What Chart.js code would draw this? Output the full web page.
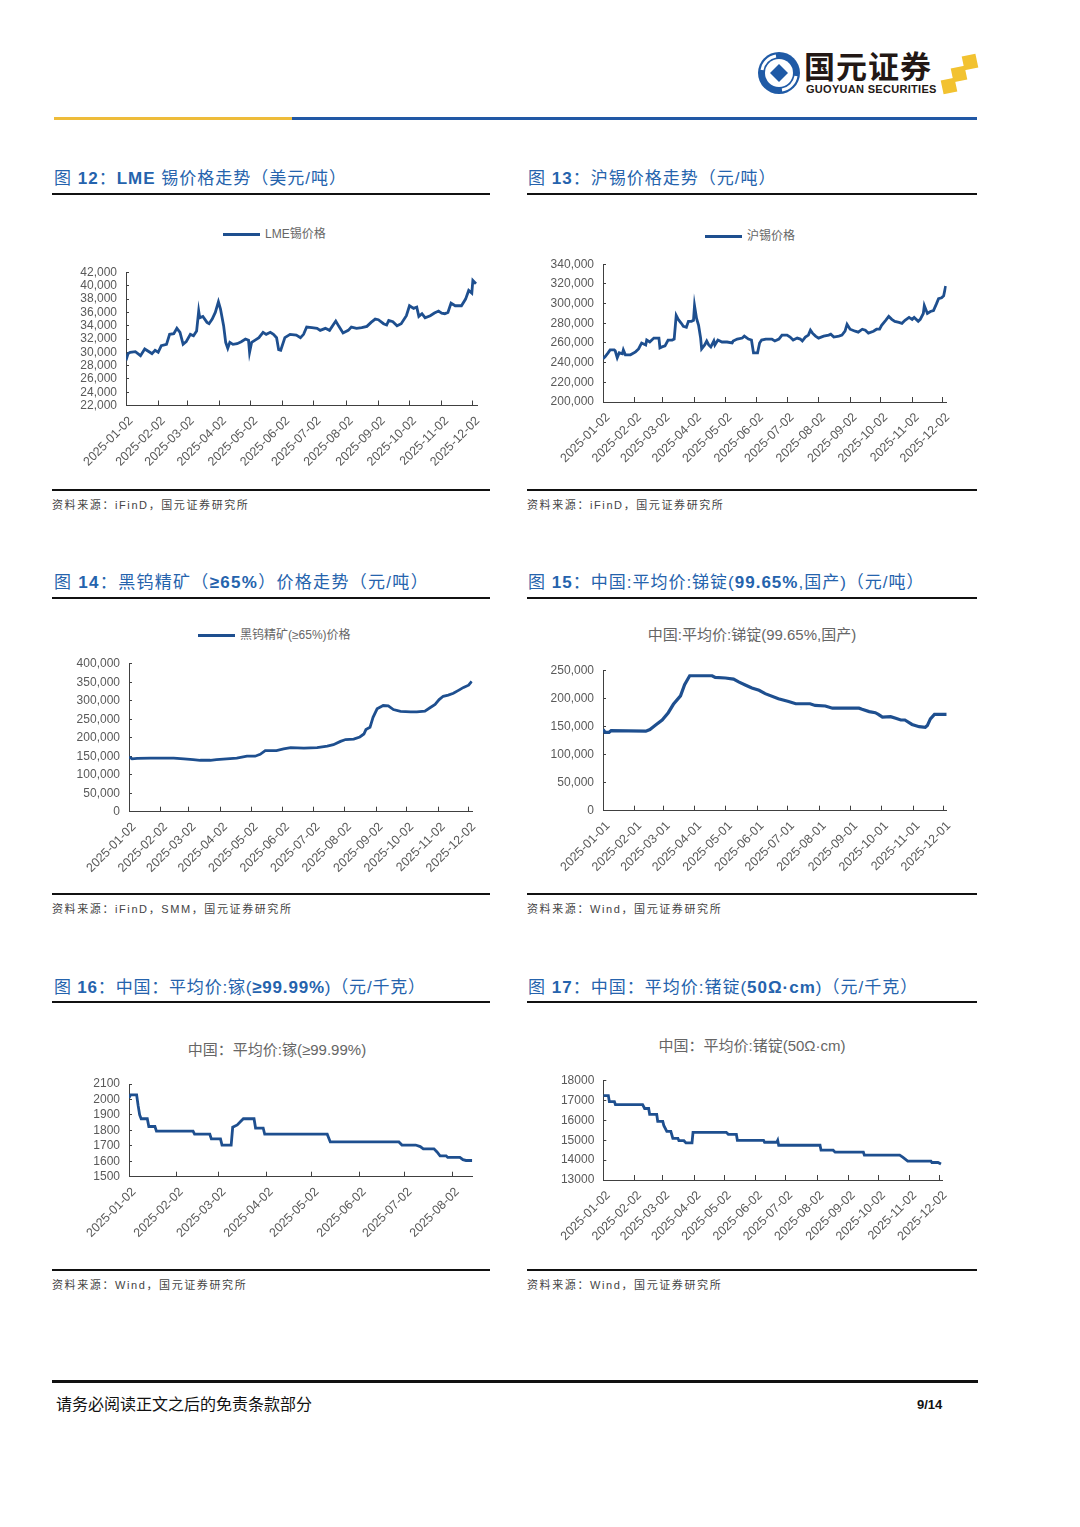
<!DOCTYPE html>
<html lang="zh-CN">
<head>
<meta charset="utf-8">
<title>国元证券 9/14</title>
<script src="https://cdn.jsdelivr.net/npm/chart.js@4.4.1/dist/chart.umd.min.js"></script>
<style>
  body { margin:0; width:1080px; height:1527px; background:#fff; position:relative; overflow:hidden;
         font-family:"Liberation Sans","Noto Sans CJK SC",sans-serif; }
  .rule { position:absolute; background:#111; }
  .title { position:absolute; font-size:17px; line-height:20px; color:#2563ad; white-space:nowrap; letter-spacing:1px; }
  .src { position:absolute; font-size:11px; line-height:14px; color:#444; white-space:nowrap; letter-spacing:1.6px; }
  .legend { position:absolute; font-size:12px; line-height:14px; color:#666; white-space:nowrap; display:flex; align-items:center; }
  .legend i { display:inline-block; width:37px; height:3px; background:#1e4f8f; margin-right:5px; }
  .ctitle { position:absolute; font-size:15px; line-height:16px; color:#666; white-space:nowrap; transform:translateX(-50%); }
  .box { position:absolute; }
  .sq { position:absolute; width:14px; height:14px; background:#f2c230; transform:rotate(-12deg); }
</style>
</head>
<body>

<!-- header -->
<svg class="box" style="left:756px;top:50px" width="46" height="46" viewBox="0 0 46 46">
  <circle cx="23" cy="23" r="21" fill="#1f5aa6"/>
  <circle cx="23" cy="23" r="14" fill="#fff"/>
  <path d="M23 14 L32 23 L23 32 L14 23 Z" fill="#1f5aa6"/>
  <path d="M6 20 A17 17 0 0 1 20 6" stroke="#fff" stroke-width="3" fill="none"/>
  <path d="M40 26 A17 17 0 0 1 26 40" stroke="#fff" stroke-width="3" fill="none"/>
</svg>
<div class="box" style="left:804px;top:48px;font-size:31px;line-height:33px;font-weight:bold;color:#231815;font-family:'Noto Sans CJK SC';letter-spacing:1px">国元证券</div>
<div class="box" style="left:806px;top:83px;font-size:11px;line-height:12px;font-weight:bold;color:#231815;letter-spacing:0.3px">GUOYUAN SECURITIES</div>
<div class="sq" style="left:963px;top:55px"></div>
<div class="sq" style="left:952px;top:67px"></div>
<div class="sq" style="left:942px;top:79px"></div>
<div class="rule" style="left:54px;top:117px;width:238px;height:3px;background:#eebc3a"></div>
<div class="rule" style="left:292px;top:117px;width:685px;height:3px;background:#2158a5"></div>

<!-- row 1 -->
<div class="title" style="left:54px;top:169px">图 <b>12</b>：<b>LME</b> 锡价格走势（美元/吨）</div>
<div class="title" style="left:528px;top:169px">图 <b>13</b>：沪锡价格走势（元/吨）</div>
<div class="rule" style="left:52px;top:193px;width:438px;height:2px"></div>
<div class="rule" style="left:527px;top:193px;width:450px;height:2px"></div>
<div class="legend" style="left:223px;top:227px"><i></i>LME锡价格</div>
<div class="legend" style="left:705px;top:229px"><i></i>沪锡价格</div>
<div class="box" style="left:52px;top:262px;width:438px;height:223px"><canvas id="c12"></canvas></div>
<div class="box" style="left:527px;top:254px;width:450px;height:231px"><canvas id="c13"></canvas></div>
<div class="rule" style="left:52px;top:489px;width:438px;height:1.5px"></div>
<div class="rule" style="left:527px;top:489px;width:450px;height:1.5px"></div>
<div class="src" style="left:52px;top:498px">资料来源：iFinD，国元证券研究所</div>
<div class="src" style="left:527px;top:498px">资料来源：iFinD，国元证券研究所</div>

<!-- row 2 -->
<div class="title" style="left:54px;top:573px;letter-spacing:1.3px">图 <b>14</b>：黑钨精矿（<b>≥65%</b>）价格走势（元/吨）</div>
<div class="title" style="left:528px;top:573px">图 <b>15</b>：中国:平均价:锑锭(<b>99.65%</b>,国产)（元/吨）</div>
<div class="rule" style="left:52px;top:597px;width:438px;height:2px"></div>
<div class="rule" style="left:527px;top:597px;width:450px;height:2px"></div>
<div class="legend" style="left:198px;top:628px"><i></i>黑钨精矿(≥65%)价格</div>
<div class="ctitle" style="left:752px;top:627px">中国:平均价:锑锭(99.65%,国产)</div>
<div class="box" style="left:52px;top:653px;width:438px;height:237px"><canvas id="c14"></canvas></div>
<div class="box" style="left:527px;top:660px;width:450px;height:230px"><canvas id="c15"></canvas></div>
<div class="rule" style="left:52px;top:893px;width:438px;height:1.5px"></div>
<div class="rule" style="left:527px;top:893px;width:450px;height:1.5px"></div>
<div class="src" style="left:52px;top:902px">资料来源：iFinD，SMM，国元证券研究所</div>
<div class="src" style="left:527px;top:902px">资料来源：Wind，国元证券研究所</div>

<!-- row 3 -->
<div class="title" style="left:54px;top:978px;letter-spacing:0.8px">图 <b>16</b>：中国：平均价:镓(<b>≥99.99%</b>)（元/千克）</div>
<div class="title" style="left:528px;top:978px">图 <b>17</b>：中国：平均价:锗锭(<b>50Ω·cm</b>)（元/千克）</div>
<div class="rule" style="left:52px;top:1001px;width:438px;height:2px"></div>
<div class="rule" style="left:527px;top:1001px;width:450px;height:2px"></div>
<div class="ctitle" style="left:277px;top:1042px">中国：平均价:镓(≥99.99%)</div>
<div class="ctitle" style="left:752px;top:1038px">中国：平均价:锗锭(50Ω·cm)</div>
<div class="box" style="left:52px;top:1074px;width:438px;height:191px"><canvas id="c16"></canvas></div>
<div class="box" style="left:527px;top:1070px;width:450px;height:195px"><canvas id="c17"></canvas></div>
<div class="rule" style="left:52px;top:1269px;width:438px;height:1.5px"></div>
<div class="rule" style="left:527px;top:1269px;width:450px;height:1.5px"></div>
<div class="src" style="left:52px;top:1278px">资料来源：Wind，国元证券研究所</div>
<div class="src" style="left:527px;top:1278px">资料来源：Wind，国元证券研究所</div>

<!-- footer -->
<div class="rule" style="left:52px;top:1380px;width:926px;height:3px"></div>
<div class="box" style="left:56px;top:1395px;font-size:16px;line-height:20px;color:#111">请务必阅读正文之后的免责条款部分</div>
<div class="box" style="left:917px;top:1397px;font-size:13px;line-height:16px;font-weight:bold;color:#111">9/14</div>

<script>
// tick labels
const ticks02 = ['2025-01-02', '2025-02-02', '2025-03-02', '2025-04-02', '2025-05-02', '2025-06-02',
                 '2025-07-02', '2025-08-02', '2025-09-02', '2025-10-02', '2025-11-02', '2025-12-02'];
const ticks01 = ['2025-01-01', '2025-02-01', '2025-03-01', '2025-04-01', '2025-05-01', '2025-06-01',
                 '2025-07-01', '2025-08-01', '2025-09-01', '2025-10-01', '2025-11-01', '2025-12-01'];
const galliumTicks = ['2025-01-02', '2025-02-02', '2025-03-02', '2025-04-02',
                      '2025-05-02', '2025-06-02', '2025-07-02', '2025-08-02'];

// x values are days since 2025-01-01
// 图12 LME锡 (美元/吨)
const lmeDay = [1, 3, 5, 10, 15, 19, 24, 26, 29, 32,
  35, 40, 43, 47, 50, 53, 56, 59, 63, 66,
  69, 71, 72, 75, 79, 81, 84, 87, 90, 92,
  95, 97, 99, 101, 104, 108, 112, 116, 119, 120,
  122, 125, 129, 133, 136, 140, 143, 146, 148, 150,
  154, 159, 165, 169, 172, 175, 180, 185, 188, 193,
  197, 203, 206, 210, 215, 218, 223, 228, 233, 237,
  241, 244, 249, 252, 254, 258, 262, 266, 271, 274,
  278, 281, 283, 286, 289, 294, 298, 302, 305, 308,
  311, 314, 318, 324, 328, 331, 334, 335, 338];
const lmePrice = [28800, 29800, 30000, 30100, 29500, 30500, 30000, 29800, 30300, 30000,
  31000, 31200, 32700, 32800, 33600, 33000, 31200, 31600, 32700, 32500,
  33200, 36200, 35200, 35400, 34500, 34300, 35000, 36000, 37600, 36500,
  34000, 31500, 30600, 31500, 31200, 31300, 31600, 32000, 31800, 30000,
  31500, 31800, 32200, 33000, 32700, 33000, 32700, 32200, 30400, 30300,
  32200, 32700, 32600, 32200, 32700, 33800, 33700, 33600, 33300, 33600,
  33300, 34700, 33900, 32900, 33300, 33800, 33600, 33700, 33900, 34500,
  35000, 34900, 34300, 34100, 34800, 34600, 34000, 34300, 35500, 37000,
  36600, 36800, 35400, 35800, 35200, 35500, 35900, 36200, 35900, 35800,
  36000, 37400, 37000, 37000, 38000, 39300, 38900, 40800, 40300];

// 图13 沪锡 (元/吨)
const shDay = [1, 3, 6, 8, 12, 13, 15, 17, 20, 21,
  23, 28, 33, 36, 38, 39, 43, 44, 47, 49,
  51, 56, 57, 59, 62, 65, 69, 71, 73, 75,
  78, 80, 83, 85, 88, 90, 91, 93, 95, 97,
  98, 101, 103, 105, 107, 110, 111, 114, 118, 123,
  128, 129, 133, 138, 140, 144, 147, 149, 153, 155,
  157, 161, 167, 170, 174, 177, 182, 185, 188, 192,
  195, 197, 200, 203, 205, 207, 210, 213, 218, 223,
  225, 228, 233, 236, 239, 241, 244, 249, 252, 256,
  259, 262, 267, 270, 273, 275, 279, 282, 285, 288,
  292, 295, 298, 302, 305, 307, 311, 313, 316, 317,
  320, 323, 326, 329, 331, 334, 336, 338];
const shPrice = [244000, 246000, 250000, 253000, 253000, 252000, 245000, 250000, 249000, 253000,
  248000, 248000, 251000, 254000, 258000, 260000, 258000, 263000, 261000, 263000,
  265000, 265000, 255000, 256000, 257000, 263000, 263000, 264000, 288000, 284000,
  280000, 277000, 276000, 282000, 282000, 283000, 298000, 285000, 278000, 265000,
  254000, 258000, 262000, 258000, 256000, 262000, 258000, 263000, 261000, 261000,
  260000, 262000, 264000, 265000, 267000, 264000, 263000, 250000, 250000, 260000,
  263000, 264000, 264000, 262000, 264000, 268000, 268000, 266000, 263000, 265000,
  264000, 262000, 266000, 268000, 273000, 270000, 267000, 265000, 267000, 268000,
  269000, 266000, 267000, 268000, 272000, 279000, 274000, 272000, 271000, 274000,
  273000, 270000, 272000, 274000, 274000, 278000, 283000, 287000, 284000, 282000,
  281000, 280000, 283000, 286000, 284000, 286000, 282000, 284000, 290000, 298000,
  290000, 292000, 293000, 300000, 305000, 306000, 308000, 318000];

// 图14 黑钨精矿(≥65%) (元/吨)
const wDay = [1, 4, 9, 22, 45, 55, 64, 71, 81, 87,
  97, 107, 117, 125, 130, 135, 146, 153, 160, 173,
  186, 196, 202, 209, 214, 222, 228, 232, 234, 238,
  241, 245, 251, 256, 261, 268, 278, 284, 292, 297,
  302, 306, 310, 315, 320, 325, 330, 335, 338];
const wPrice = [148000, 143000, 144000, 145000, 145000, 143000, 141000, 139000, 139000, 141000,
  143000, 145000, 150000, 150000, 155000, 165000, 165000, 170000, 173000, 172000,
  173000, 177000, 181000, 190000, 195000, 196000, 202000, 210000, 222000, 228000,
  255000, 278000, 287000, 286000, 276000, 271000, 270000, 270000, 272000, 281000,
  290000, 303000, 312000, 315000, 320000, 328000, 336000, 342000, 352000];

// 图15 锑锭(99.65%,国产) (元/吨)
const sbDay = [0, 2, 6, 8, 42, 46, 51, 58, 64, 69,
  76, 80, 85, 107, 110, 120, 128, 133, 140, 146,
  153, 159, 172, 182, 189, 203, 208, 218, 225, 251,
  254, 261, 267, 270, 274, 282, 287, 292, 296, 303,
  310, 316, 318, 321, 325, 337];
const sbPrice = [145000, 140000, 140000, 143000, 142000, 145000, 152000, 162000, 175000, 190000,
  205000, 225000, 241000, 241000, 238000, 237000, 235000, 230000, 224000, 219000,
  215000, 209000, 200000, 195000, 191000, 191000, 188000, 187000, 183000, 183000,
  181000, 177000, 175000, 172000, 167000, 168000, 165000, 162000, 162000, 154000,
  150000, 149000, 152000, 164000, 172000, 172000];

// 图16 镓(≥99.99%) (元/千克)
const gaDay = [1, 2, 6, 7, 8, 9, 13, 14, 18, 19,
  43, 44, 54, 55, 61, 62, 68, 69, 72, 74,
  76, 83, 84, 89, 90, 131, 133, 178, 180, 189,
  192, 194, 201, 203, 205, 209, 210, 218, 220, 222, 226];
const gaPrice = [2010, 2030, 2030, 1960, 1900, 1875, 1875, 1825, 1825, 1795,
  1795, 1775, 1775, 1745, 1745, 1705, 1705, 1820, 1835, 1855,
  1875, 1875, 1815, 1815, 1775, 1775, 1725, 1725, 1705, 1705,
  1695, 1680, 1680, 1660, 1635, 1635, 1625, 1625, 1610, 1605, 1605];

// 图17 锗锭(50Ω·cm) (元/千克)
const geDay = [1, 6, 7, 12, 13, 40, 42, 46, 47, 54,
  55, 60, 61, 64, 68, 70, 75, 76, 81, 83,
  89, 90, 123, 125, 133, 134, 160, 161, 173, 174,
  175, 216, 217, 229, 231, 259, 260, 295, 298, 303,
  326, 327, 333, 336];
const gePrice = [17250, 17250, 16950, 16950, 16800, 16800, 16600, 16600, 16300, 16300,
  15950, 15950, 15750, 15450, 15450, 15100, 15100, 14980, 14980, 14870,
  14870, 15400, 15400, 15300, 15300, 15000, 15000, 14900, 14900, 15000,
  14750, 14750, 14500, 14500, 14400, 14400, 14250, 14250, 14150, 13950,
  13950, 13880, 13880, 13800];

const lineColor = '#1e4f8f';
const axisColor = '#404040';
const labelColor = '#595959';

Chart.defaults.font.family = '"Liberation Sans", "Noto Sans CJK SC", sans-serif';
Chart.defaults.font.size = 12;

function dayOf(s) {
  const [y, m, d] = s.split('-').map(Number);
  return (Date.UTC(y, m - 1, d) - Date.UTC(y, 0, 1)) / 86400000;
}

function priceChart(id, xs, ys, o) {
  new Chart(document.getElementById(id), {
    type: 'line',
    data: {
      datasets: [{
        data: xs.map((x, i) => ({ x: x, y: ys[i] })),
        borderColor: lineColor,
        borderWidth: o.lw || 2.8,
        pointRadius: 0,
        tension: 0,
        fill: false
      }]
    },
    options: {
      responsive: true,
      maintainAspectRatio: false,
      animation: false,
      events: [],
      layout: { padding: { top: o.pt, right: o.pr, left: 0, bottom: 0 } },
      plugins: { legend: { display: false }, tooltip: { enabled: false } },
      scales: {
        x: {
          type: 'linear',
          min: o.xMin,
          max: o.xMax,
          afterBuildTicks: s => { s.ticks = o.ticks.map(t => ({ value: dayOf(t) })); },
          afterFit: s => { s.height = o.xh; s.paddingLeft = 0; s.paddingRight = 0; },
          ticks: {
            autoSkip: false, minRotation: 45, maxRotation: 45, padding: 13, labelOffset: 5,
            color: labelColor, font: { size: 12.5 }, callback: (v, i) => o.ticks[i]
          },
          grid: { drawOnChartArea: false, drawTicks: true, tickLength: -5, color: axisColor },
          border: { color: axisColor, width: 1 }
        },
        y: {
          min: o.yMin,
          max: o.yMax,
          afterFit: s => { s.width = o.yw; s.paddingTop = 0; s.paddingBottom = 0; },
          ticks: {
            autoSkip: false, stepSize: o.yStep, maxTicksLimit: 20, padding: 12, color: labelColor,
            callback: v => o.comma ? v.toLocaleString('en-US') : String(v)
          },
          grid: { drawOnChartArea: false, drawTicks: true, tickLength: -3, color: axisColor },
          border: { color: axisColor, width: 1 }
        }
      }
    }
  });
}

priceChart('c12', lmeDay, lmePrice, { pt: 10.5, pr: 13, yw: 74, xh: 79.5,
  xMin: 1, xMax: 339, yMin: 22000, yMax: 42000, yStep: 2000, ticks: ticks02, comma: true });
priceChart('c13', shDay, shPrice, { pt: 10.3, pr: 30.3, yw: 76, xh: 83,
  xMin: 1, xMax: 339, yMin: 200000, yMax: 340000, yStep: 20000, ticks: ticks02, comma: true });
priceChart('c14', wDay, wPrice, { pt: 10.7, pr: 17.3, yw: 77, xh: 78.3,
  xMin: 1, xMax: 339, yMin: 0, yMax: 400000, yStep: 50000, ticks: ticks02, comma: true });
priceChart('c15', sbDay, sbPrice, { pt: 10.7, pr: 30.3, yw: 76, xh: 79.3, lw: 3.2,
  xMin: 0, xMax: 337, yMin: 0, yMax: 250000, yStep: 50000, ticks: ticks01, comma: true });
priceChart('c16', gaDay, gaPrice, { pt: 10, pr: 17.3, yw: 77, xh: 88.3,
  xMin: 1, xMax: 226.4, yMin: 1500, yMax: 2100, yStep: 100, ticks: galliumTicks, comma: false });
priceChart('c17', geDay, gePrice, { pt: 10.7, pr: 34.7, yw: 76.3, xh: 85,
  xMin: 1, xMax: 337.3, yMin: 13000, yMax: 18000, yStep: 1000, ticks: ticks02, comma: false });
</script>
</body>
</html>
